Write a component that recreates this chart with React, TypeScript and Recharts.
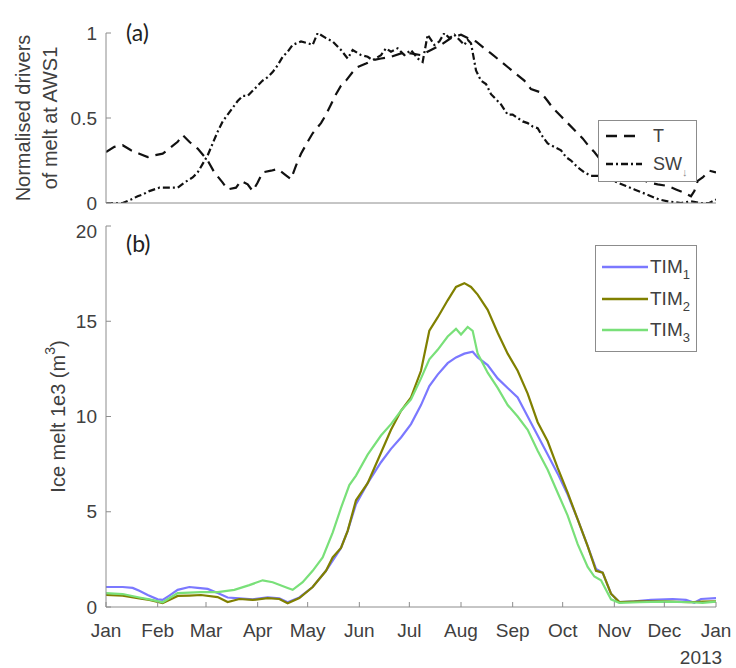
import React from 'react';
import { LineChart, Line, XAxis, YAxis, Legend } from 'recharts';

const FONT = '"Liberation Sans", Arial, Helvetica, sans-serif';
const PANEL_FONT = 'Lato, "Open Sans", sans-serif';
const TEXT = '#404040';
const AXIS = '#8c8c8c';

// ---- axes ----
const monthTicks = [0, 31, 60, 91, 121, 152, 182, 213, 244, 274, 305, 335, 366];
const monthLabels = ['Jan', 'Feb', 'Mar', 'Apr', 'May', 'Jun', 'Jul', 'Aug', 'Sep', 'Oct', 'Nov', 'Dec', 'Jan'];
const yearLabel = '2013';
const driverTicks = [0, 0.5, 1];
const meltTicks = [0, 5, 10, 15, 20];

// ---- panel (a): normalised drivers ----
const tDays = [0, 5, 10, 15, 20, 25, 29, 34, 38, 43, 46, 50, 55, 61, 65, 70, 73, 78, 81, 85, 88, 91, 94, 99, 103, 107, 111, 114, 117, 121, 124, 129, 132, 135, 138, 141, 144, 148, 151, 156, 160, 165, 171, 177, 183, 189, 195, 201, 207, 213, 217, 222, 227, 231, 236, 241, 246, 251, 255, 261, 265, 268, 273, 277, 282, 286, 290, 293, 297, 303, 309, 315, 321, 326, 331, 337, 342, 347, 351, 353, 355, 358, 362, 366];
const tValues = [0.30, 0.33, 0.34, 0.31, 0.29, 0.27, 0.28, 0.29, 0.32, 0.36, 0.40, 0.36, 0.32, 0.25, 0.18, 0.12, 0.08, 0.09, 0.13, 0.11, 0.07, 0.12, 0.18, 0.19, 0.20, 0.17, 0.14, 0.22, 0.29, 0.36, 0.41, 0.47, 0.52, 0.58, 0.64, 0.69, 0.72, 0.77, 0.80, 0.82, 0.84, 0.85, 0.86, 0.88, 0.88, 0.87, 0.90, 0.93, 0.97, 0.99, 0.97, 0.95, 0.91, 0.88, 0.84, 0.80, 0.76, 0.72, 0.67, 0.65, 0.60, 0.56, 0.51, 0.47, 0.42, 0.38, 0.33, 0.30, 0.25, 0.22, 0.18, 0.16, 0.14, 0.12, 0.11, 0.10, 0.08, 0.06, 0.04, 0.07, 0.13, 0.15, 0.19, 0.18];

const swDays = [0, 5, 10, 15, 19, 22, 26, 32, 37, 43, 47, 52, 55, 58, 61, 64, 67, 70, 73, 76, 79, 82, 85, 88, 91, 94, 97, 100, 103, 106, 109, 112, 117, 121, 124, 127, 132, 136, 141, 145, 148, 153, 157, 160, 165, 168, 171, 175, 179, 183, 187, 190, 193, 197, 200, 203, 206, 209, 212, 215, 217, 219, 222, 225, 228, 231, 234, 237, 241, 244, 247, 250, 253, 256, 259, 262, 265, 269, 273, 276, 279, 283, 287, 291, 295, 300, 307, 312, 317, 322, 327, 332, 337, 345, 351, 357, 362, 366];
const swValues = [0.00, 0.00, 0.00, 0.02, 0.04, 0.05, 0.07, 0.09, 0.09, 0.09, 0.12, 0.15, 0.18, 0.23, 0.28, 0.35, 0.42, 0.48, 0.52, 0.56, 0.60, 0.63, 0.63, 0.66, 0.69, 0.72, 0.74, 0.77, 0.81, 0.86, 0.89, 0.93, 0.95, 0.94, 0.93, 1.00, 0.97, 0.95, 0.90, 0.85, 0.90, 0.87, 0.86, 0.84, 0.87, 0.91, 0.89, 0.91, 0.87, 0.90, 0.85, 0.83, 0.99, 0.93, 0.95, 1.00, 0.97, 0.99, 0.96, 0.93, 0.96, 0.94, 0.78, 0.72, 0.70, 0.64, 0.61, 0.58, 0.52, 0.52, 0.50, 0.48, 0.47, 0.45, 0.44, 0.39, 0.35, 0.33, 0.31, 0.27, 0.25, 0.21, 0.18, 0.16, 0.16, 0.15, 0.12, 0.10, 0.08, 0.06, 0.04, 0.02, 0.01, 0.00, 0.01, 0.00, 0.00, 0.02];

// ---- panel (b): ice melt (1e3 m^3) ----
const tim1Days = [0, 5, 10, 16, 20, 25, 31, 34, 38, 43, 50, 55, 61, 67, 73, 80, 88, 97, 104, 109, 116, 124, 132, 141, 145, 150, 157, 165, 171, 177, 183, 189, 194, 199, 205, 210, 215, 220, 223, 229, 235, 241, 247, 253, 259, 265, 271, 277, 283, 289, 294, 298, 303, 308, 317, 327, 340, 348, 353, 357, 366];
const tim1Values = [1.05, 1.05, 1.05, 1.0, 0.85, 0.63, 0.4, 0.37, 0.6, 0.9, 1.05, 1.0, 0.95, 0.73, 0.5, 0.45, 0.4, 0.5, 0.45, 0.25, 0.5, 1.05, 1.9, 3.1, 4.0, 5.4, 6.5, 7.6, 8.3, 8.9, 9.6, 10.6, 11.6, 12.2, 12.8, 13.1, 13.3, 13.4, 13.1, 12.7, 12.0, 11.5, 11.0, 10.0, 9.0, 8.0, 7.0, 5.9, 4.6, 3.2, 2.0, 1.8, 0.7, 0.26, 0.3, 0.37, 0.42, 0.37, 0.22, 0.42, 0.47];

const tim2Days = [0, 10, 20, 26, 34, 43, 50, 57, 67, 73, 80, 88, 97, 104, 109, 116, 124, 132, 136, 141, 145, 150, 157, 165, 171, 177, 183, 189, 194, 199, 205, 210, 215, 219, 223, 229, 235, 241, 247, 253, 259, 265, 271, 277, 283, 289, 294, 298, 303, 308, 320, 335, 350, 358, 366];
const tim2Values = [0.63, 0.6, 0.45, 0.37, 0.2, 0.58, 0.6, 0.63, 0.52, 0.26, 0.42, 0.37, 0.47, 0.42, 0.2, 0.47, 1.05, 1.9, 2.6, 3.1, 4.0, 5.6, 6.5, 8.1, 9.3, 10.3, 11.0, 12.4, 14.5, 15.2, 16.1, 16.8, 17.0, 16.8, 16.4, 15.6, 14.4, 13.3, 12.4, 11.2, 9.7, 8.7, 7.3, 6.0, 4.6, 3.2, 1.9, 1.8, 0.7, 0.26, 0.3, 0.3, 0.25, 0.28, 0.3];

const tim3Days = [0, 10, 20, 26, 34, 43, 57, 67, 77, 86, 94, 100, 109, 112, 118, 124, 130, 136, 141, 146, 150, 157, 165, 171, 177, 183, 189, 194, 199, 205, 210, 213, 217, 220, 223, 229, 235, 241, 247, 253, 259, 265, 271, 277, 283, 289, 293, 297, 303, 308, 320, 335, 350, 358, 366];
const tim3Values = [0.73, 0.68, 0.5, 0.4, 0.25, 0.73, 0.78, 0.78, 0.9, 1.15, 1.4, 1.3, 1.0, 0.9, 1.3, 1.9, 2.6, 3.9, 5.2, 6.4, 6.9, 8.0, 9.0, 9.6, 10.3, 10.9, 12.0, 13.0, 13.5, 14.2, 14.6, 14.3, 14.7, 14.5, 13.3, 12.3, 11.5, 10.6, 10.0, 9.3, 8.2, 7.2, 6.0, 4.8, 3.3, 2.1, 1.6, 1.4, 0.4, 0.22, 0.25, 0.28, 0.25, 0.22, 0.28];

const zip = (days: number[], vals: number[]) => days.map((d, i) => ({ day: d, value: vals[i] }));

const tData = zip(tDays, tValues);
const swData = zip(swDays, swValues);
const tim1Data = zip(tim1Days, tim1Values);
const tim2Data = zip(tim2Days, tim2Values);
const tim3Data = zip(tim3Days, tim3Values);

const driverSeries = [
  { name: 'T', sub: '', dash: '11 7', color: '#111' },
  { name: 'SW', sub: '↓', dash: '7 3 2 3', color: '#111' },
];
const meltSeries = [
  { name: 'TIM', sub: '1', color: '#7b78ff' },
  { name: 'TIM', sub: '2', color: '#808000' },
  { name: 'TIM', sub: '3', color: '#79e079' },
];

const MonthTick = (props: any) => {
  const { x, y, payload } = props;
  const i = monthTicks.indexOf(payload.value);
  return (
    <g>
      <text x={x} y={y} dy="0.71em" textAnchor="middle" fontSize={19} fill={TEXT} fontFamily={FONT}>
        {monthLabels[i]}
      </text>
      {i === monthTicks.length - 1 && (
        <text x={x - 15} y={y + 27} dy="0.71em" textAnchor="middle" fontSize={19} fill={TEXT} fontFamily={FONT}>
          {yearLabel}
        </text>
      )}
    </g>
  );
};

const DriversLabel = (props: any) => {
  const vb = props.viewBox || {};
  const cy = vb.y + vb.height / 2;
  const common = { textAnchor: 'middle' as const, dominantBaseline: 'central' as const, fontSize: 20, fill: TEXT, fontFamily: FONT };
  return (
    <g>
      <text x={23} y={cy} transform={`rotate(-90, 23, ${cy})`} {...common}>Normalised drivers</text>
      <text x={50} y={cy} transform={`rotate(-90, 50, ${cy})`} {...common}>of melt at AWS1</text>
    </g>
  );
};

const MeltLabel = (props: any) => {
  const vb = props.viewBox || {};
  const cy = vb.y + vb.height / 2;
  return (
    <text x={58} y={cy} transform={`rotate(-90, 58, ${cy})`} textAnchor="middle" dominantBaseline="central" fontSize={20} fill={TEXT} fontFamily={FONT}>
      Ice melt 1e3 (m<tspan dy={-8} fontSize={14}>3</tspan><tspan dy={8}>)</tspan>
    </text>
  );
};

const DriverLegend = (props: any) => {
  const payload = props.payload || [];
  return (
    <div style={{ width: 99, height: 62, boxSizing: 'border-box', border: `1px solid ${AXIS}`, background: '#fff', position: 'relative', fontFamily: FONT, color: TEXT }}>
      {payload.map((p: any, i: number) => {
        const s = driverSeries[i];
        const top = i === 0 ? 4 : 32;
        return (
          <div key={i} style={{ position: 'absolute', left: 0, top, height: 22, width: 97 }}>
            <svg width={40} height={22} style={{ position: 'absolute', left: 6, top: 0 }}>
              <line x1={1} y1={11} x2={37} y2={11} stroke={p.color} strokeWidth={2.4} strokeDasharray={s.dash} />
            </svg>
            <span style={{ position: 'absolute', left: 54, top: 0, fontSize: 18, lineHeight: '22px', whiteSpace: 'nowrap' }}>
              {s.name}
              {s.sub && <sub style={{ fontSize: 11, color: '#888', verticalAlign: -6 }}>{s.sub}</sub>}
            </span>
          </div>
        );
      })}
    </div>
  );
};

const MeltLegend = (props: any) => {
  const payload = props.payload || [];
  return (
    <div style={{ width: 102, height: 107, boxSizing: 'border-box', border: `1px solid ${AXIS}`, background: '#fff', position: 'relative', fontFamily: FONT, color: TEXT }}>
      {payload.map((p: any, i: number) => {
        const s = meltSeries[i];
        const top = 9 + i * 31.5;
        return (
          <div key={i} style={{ position: 'absolute', left: 0, top, height: 24, width: 100 }}>
            <svg width={50} height={24} style={{ position: 'absolute', left: 5, top: 0 }}>
              <line x1={1} y1={12} x2={47} y2={12} stroke={p.color} strokeWidth={2.4} />
            </svg>
            <span style={{ position: 'absolute', left: 54, top: 0, fontSize: 19, lineHeight: '24px', whiteSpace: 'nowrap' }}>
              {s.name}
              <sub style={{ fontSize: 13, verticalAlign: -6 }}>{s.sub}</sub>
            </span>
          </div>
        );
      })}
    </div>
  );
};

export default function App() {
  return (
    <div style={{ position: 'absolute', left: 0, top: 0, width: 736, height: 668, background: '#fff', overflow: 'hidden' }}>
      <div style={{ position: 'absolute', left: 0, top: 0 }}>
        <LineChart width={736} height={215} margin={{ top: 33, right: 20, bottom: 10, left: 0 }}>
          <XAxis
            type="number"
            dataKey="day"
            domain={[0, 366]}
            ticks={monthTicks}
            tick={false}
            height={2}
            tickSize={-5}
            stroke={AXIS}
            allowDataOverflow
          />
          <YAxis
            type="number"
            domain={[0, 1]}
            ticks={driverTicks}
            width={106}
            tickSize={-5}
            tickMargin={14}
            stroke={AXIS}
            tick={{ fill: TEXT, fontSize: 19, fontFamily: FONT }}
            tickFormatter={(v: number) => String(v)}
            label={<DriversLabel />}
            allowDataOverflow
          />
          <Legend
            layout="horizontal"
            verticalAlign="middle"
            align="center"
            wrapperStyle={{ left: 598, top: 120, width: 99, height: 62 }}
            content={<DriverLegend />}
          />
          <Line data={tData} dataKey="value" name="T" type="linear" stroke={driverSeries[0].color} strokeWidth={2.2} strokeDasharray={driverSeries[0].dash} dot={false} isAnimationActive={false} />
          <Line data={swData} dataKey="value" name="SW" type="linear" stroke={driverSeries[1].color} strokeWidth={2.2} strokeDasharray={driverSeries[1].dash} dot={false} isAnimationActive={false} />
        </LineChart>
      </div>
      <div style={{ position: 'absolute', left: 126, top: 17, fontFamily: PANEL_FONT, fontSize: 23, color: '#222', lineHeight: '30px' }}>(a)</div>

      <div style={{ position: 'absolute', left: 0, top: 220 }}>
        <LineChart width={736} height={448} margin={{ top: 6, right: 20, bottom: 11, left: 0 }}>
          <XAxis
            type="number"
            dataKey="day"
            domain={[0, 366]}
            ticks={monthTicks}
            height={50}
            tickSize={-5}
            tickMargin={22}
            stroke={AXIS}
            tick={<MonthTick />}
            interval={0}
            allowDataOverflow
          />
          <YAxis
            type="number"
            domain={[0, 20]}
            ticks={meltTicks}
            width={106}
            tickSize={-5}
            tickMargin={14}
            stroke={AXIS}
            tick={{ fill: TEXT, fontSize: 19, fontFamily: FONT }}
            label={<MeltLabel />}
            allowDataOverflow
          />
          <Legend
            layout="horizontal"
            verticalAlign="middle"
            align="center"
            wrapperStyle={{ left: 595, top: 25, width: 102, height: 107 }}
            content={<MeltLegend />}
          />
          <Line data={tim1Data} dataKey="value" name="TIM1" type="linear" stroke={meltSeries[0].color} strokeWidth={2.2} dot={false} isAnimationActive={false} />
          <Line data={tim2Data} dataKey="value" name="TIM2" type="linear" stroke={meltSeries[1].color} strokeWidth={2.2} dot={false} isAnimationActive={false} />
          <Line data={tim3Data} dataKey="value" name="TIM3" type="linear" stroke={meltSeries[2].color} strokeWidth={2.2} dot={false} isAnimationActive={false} />
        </LineChart>
      </div>
      <div style={{ position: 'absolute', left: 126, top: 228, fontFamily: PANEL_FONT, fontSize: 23, color: '#222', lineHeight: '30px' }}>(b)</div>
    </div>
  );
}
